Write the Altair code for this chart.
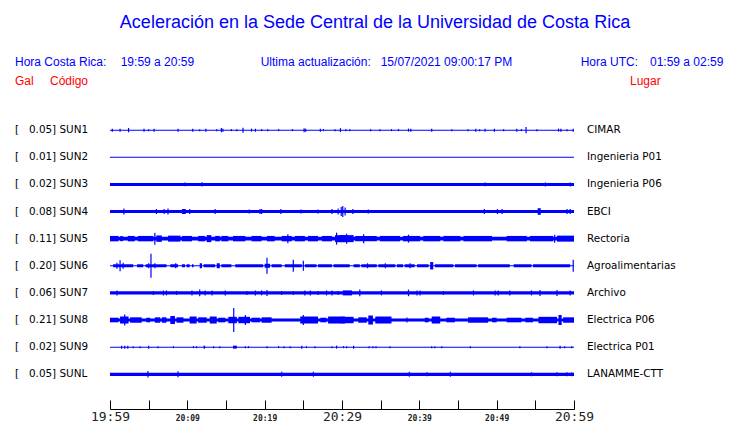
import altair as alt
import pandas as pd

# ---------------- data ----------------
title_text = "Aceleración en la Sede Central de la Universidad de Costa Rica"
hdr_local_lbl, hdr_local_val = "Hora Costa Rica:", "19:59 a 20:59"
hdr_upd_lbl, hdr_upd_val = "Ultima actualización:", "15/07/2021 09:00:17 PM"
hdr_utc_lbl, hdr_utc_val = "Hora UTC:", "01:59 a 02:59"
col_gal, col_code, col_place = "Gal", "Código", "Lugar"

stations = ["SUN1", "SUN2", "SUN3", "SUN4", "SUN5", "SUN6", "SUN7", "SUN8", "SUN9", "SUNL"]
full_scale = ["0.05", "0.01", "0.02", "0.08", "0.11", "0.20", "0.06", "0.21", "0.02", "0.05"]
places = ["CIMAR", "Ingenieria P01", "Ingenieria P06", "EBCI", "Rectoria",
          "Agroalimentarias", "Archivo", "Electrica P06", "Electrica P01", "LANAMME-CTT"]

# minutes after 19:59 and tick labels
tick_minutes = list(range(0, 61, 5))
tick_labels = ["19:59", "", "20:09", "", "20:19", "", "20:29", "", "20:39", "", "20:49", "", "20:59"]

# background half-amplitude of every trace (display counts)
base_amp = [0.5, 0.5, 1.5, 1.5, 1.8, 0.6, 1.6, 1.5, 0.5, 1.6]
COUNTS_PER_TRACE = 27.1

# spikes: (minute, half amplitude)
spikes_sun1 = [(0.3, 1.5), (1.3, 1.5), (2.4, 2.2), (4.4, 1.5), (5.0, 1.0), (5.7, 1.5), (8.8, 1.5),
               (10.7, 1.5), (11.6, 1.0), (12.4, 1.5), (13.8, 1.0), (14.4, 2.2), (14.6, 1.5), (15.7, 1.0),
               (16.4, 1.0), (17.2, 2.5), (18.3, 1.5), (18.8, 1.5), (19.6, 1.0), (20.4, 1.0), (21.8, 1.0),
               (23.6, 1.0), (25.1, 2.0), (25.3, 1.5), (27.2, 1.5), (27.6, 1.0), (29.1, 1.0), (29.8, 2.0),
               (30.5, 1.0), (31.0, 1.0), (33.7, 1.0), (34.9, 1.0), (36.4, 1.0), (37.3, 1.0), (38.6, 1.5),
               (38.9, 1.5), (41.6, 1.5), (44.2, 1.0), (46.3, 1.0), (47.3, 1.5), (47.8, 1.0), (48.5, 1.5),
               (49.7, 1.5), (50.9, 1.0), (52.6, 1.5), (53.2, 1.0), (53.8, 3.0), (55.2, 1.0), (58.0, 1.5),
               (58.3, 1.5), (59.1, 1.0), (59.9, 1.5)]
spikes_sun2 = []
spikes_sun3 = [(9.7, 1.8), (11.9, 2.2), (48.5, 1.8), (56.3, 2.0), (59.5, 2.0)]
spikes_sun4 = [(1.8, 3.0), (6.0, 2.5), (7.0, 2.5), (7.5, 3.0), (10.3, 2.5), (13.6, 2.5), (18.0, 2.0),
               (19.4, 2.5), (19.6, 2.5), (22.1, 2.5), (24.7, 2.0), (26.9, 2.0), (28.7, 2.5), (29.5, 3.0),
               (29.9, 4.5), (30.1, 5.5), (30.4, 4.0), (31.4, 2.5), (33.4, 2.0), (48.4, 2.5), (50.1, 2.5),
               (50.7, 2.5), (59.1, 2.5), (59.5, 2.5)]
spikes_sun5 = [(5.8, 6.0), (23.0, 4.5), (29.3, 6.0), (30.6, 5.0), (32.8, 4.5), (38.6, 4.0), (57.5, 4.0)]
spikes_sun6 = [(0.9, 3.0), (1.3, 5.5), (1.7, 3.0), (5.0, 2.5), (5.3, 12.0), (5.8, 2.5), (8.5, 2.5),
               (20.3, 8.0), (23.7, 6.0), (25.0, 5.0), (33.3, 2.5), (35.6, 2.5), (38.8, 2.5), (59.9, 6.0)]
spikes_sun7 = [(0.9, 2.5), (5.6, 2.0), (6.9, 2.5), (7.3, 2.5), (8.6, 2.0), (10.6, 2.5), (11.6, 3.3),
               (12.3, 2.5), (13.2, 2.5), (14.9, 2.5), (17.7, 2.0), (18.8, 2.5), (19.6, 2.5), (20.3, 3.0),
               (22.2, 2.0), (23.7, 2.0), (25.2, 2.5), (25.9, 2.5), (26.9, 2.0), (28.0, 2.5), (28.7, 2.5),
               (29.5, 2.0), (32.3, 3.3), (35.1, 2.5), (38.6, 3.3), (39.7, 2.5), (40.1, 2.5), (43.1, 2.0),
               (47.0, 2.5), (49.8, 2.5), (50.2, 2.5), (51.7, 2.5), (54.5, 2.5), (55.6, 3.0), (57.8, 3.0),
               (59.5, 2.5)]
spikes_sun8 = [(1.9, 5.5), (16.0, 12.0), (17.5, 5.0), (25.0, 5.0), (38.4, 2.5)]
spikes_sun9 = [(1.5, 1.5), (1.9, 1.5), (2.3, 1.5), (3.0, 1.0), (3.9, 1.0), (5.0, 1.5), (6.2, 1.0),
               (8.2, 1.0), (10.8, 1.0), (11.2, 1.0), (13.4, 1.0), (14.2, 1.0), (17.5, 1.0), (17.9, 1.0),
               (20.3, 1.0), (21.8, 1.0), (22.5, 1.0), (23.3, 1.0), (24.8, 1.5), (25.4, 1.0), (26.5, 1.0),
               (28.7, 1.0), (29.3, 1.5), (30.2, 1.0), (30.6, 1.0), (31.5, 1.5), (33.5, 1.0), (34.0, 1.0),
               (34.4, 1.0), (36.2, 1.0), (41.6, 1.0), (42.0, 1.0), (42.9, 1.0), (46.6, 1.0), (53.0, 1.0),
               (56.5, 1.0), (58.2, 1.5), (58.8, 1.0), (59.7, 1.0)]
spikes_sunl = [(4.9, 3.3), (8.8, 3.0), (22.2, 2.5), (26.3, 2.5), (38.7, 2.5), (41.0, 2.0), (44.0, 2.5),
               (54.5, 2.0), (57.8, 2.0), (59.1, 2.0), (59.7, 2.0)]

# bursts: (start minute, end minute, half amplitude)
bursts_sun4 = [(9.3, 9.8, 2.5), (55.3, 55.7, 3.3)]
bursts_sun5 = [(0.0, 1.1, 2.7), (1.3, 1.7, 2.5), (2.3, 3.2, 2.7), (3.6, 5.6, 2.7), (6.0, 6.7, 3.2),
               (7.5, 9.1, 3.0), (9.3, 10.6, 2.7), (11.4, 12.3, 2.7), (12.5, 13.1, 3.5), (13.6, 14.2, 2.7),
               (14.4, 15.3, 2.7), (15.9, 17.5, 2.7), (18.3, 19.6, 2.7), (20.3, 21.3, 2.7), (22.2, 23.5, 2.7),
               (23.9, 25.2, 2.7), (25.6, 26.9, 2.7), (27.4, 28.7, 2.7), (29.1, 30.4, 3.5), (29.7, 31.5, 3.5),
               (31.7, 34.5, 2.7), (34.9, 37.5, 2.7), (37.9, 40.1, 2.7), (40.5, 42.7, 2.7), (43.1, 45.3, 2.7),
               (45.7, 49.4, 2.7), (51.3, 53.9, 2.7), (54.3, 57.3, 2.7), (57.8, 60.0, 3.0)]
bursts_sun6 = [(0.4, 3.0, 1.5), (3.5, 4.3, 1.5), (4.6, 7.3, 1.5), (7.8, 8.8, 1.5), (9.3, 9.7, 1.5),
               (9.9, 10.3, 1.5), (10.6, 10.8, 1.5), (11.6, 11.9, 2.5), (12.1, 13.6, 1.5), (13.8, 14.2, 2.5),
               (14.4, 15.7, 1.5), (16.2, 19.8, 1.5), (20.0, 20.7, 2.0), (20.9, 22.2, 1.5), (22.6, 24.8, 1.5),
               (25.2, 26.7, 1.5), (26.9, 28.7, 1.5), (28.9, 31.0, 1.5), (31.5, 32.3, 1.5), (32.5, 34.5, 1.5),
               (34.7, 36.9, 1.5), (37.1, 37.9, 1.5), (38.1, 39.4, 1.5), (39.7, 41.2, 1.5), (41.4, 41.8, 3.7),
               (42.0, 44.4, 1.5), (44.6, 47.4, 1.5), (47.6, 51.7, 1.5), (52.2, 54.5, 1.5), (54.7, 59.5, 1.5)]
bursts_sun7 = [(30.1, 31.3, 2.5)]
bursts_sun8 = [(0.0, 1.1, 2.3), (1.3, 2.4, 3.5), (2.6, 4.1, 2.7), (4.7, 5.2, 2.3), (5.8, 6.5, 2.7),
               (6.7, 7.3, 2.7), (7.8, 8.4, 4.0), (8.6, 9.5, 2.7), (10.3, 11.2, 3.5), (11.4, 12.5, 2.7),
               (12.9, 13.8, 3.5), (14.0, 14.9, 2.3), (15.3, 16.4, 3.2), (16.6, 18.1, 3.2), (18.3, 19.4, 2.3),
               (19.6, 20.9, 2.7), (24.6, 26.9, 3.5), (27.2, 28.0, 2.3), (28.2, 30.4, 3.5), (29.7, 31.5, 3.2),
               (32.1, 33.2, 2.7), (33.4, 34.0, 4.5), (34.3, 36.4, 3.5), (40.7, 41.2, 2.3), (41.6, 42.7, 3.5),
               (43.5, 44.6, 2.3), (46.3, 48.9, 2.7), (49.4, 50.0, 2.3), (51.3, 53.2, 2.3), (53.7, 54.7, 2.3),
               (55.4, 57.8, 3.2), (58.0, 58.4, 5.0), (58.6, 60.0, 2.7)]
bursts_sun9 = [(12.1, 12.3, 1.5), (15.9, 16.4, 1.5)]

spikes_all = [spikes_sun1, spikes_sun2, spikes_sun3, spikes_sun4, spikes_sun5,
              spikes_sun6, spikes_sun7, spikes_sun8, spikes_sun9, spikes_sunl]
bursts_all = [[], [], [], bursts_sun4, bursts_sun5, bursts_sun6, bursts_sun7, bursts_sun8, bursts_sun9, []]

# ---------------- tables ----------------
NB = "\u00a0"
labels_df = pd.DataFrame({
    "row": list(range(len(stations))),
    "left": [f"[{NB*3}{fs}] {st}" for fs, st in zip(full_scale, stations)],
    "place": places,
})
bands_df = pd.DataFrame({
    "t0": [0.0] * len(stations), "t1": [60.0] * len(stations),
    "lo": [i - a / COUNTS_PER_TRACE for i, a in enumerate(base_amp)],
    "hi": [i + a / COUNTS_PER_TRACE for i, a in enumerate(base_amp)],
})
sp_rows = []
for i, lst in enumerate(spikes_all):
    for t, a in lst:
        sp_rows.append({"t": t, "lo": i - a / COUNTS_PER_TRACE, "hi": i + a / COUNTS_PER_TRACE})
spikes_df = pd.DataFrame(sp_rows)
bu_rows = []
for i, lst in enumerate(bursts_all):
    for t0, t1, a in lst:
        bu_rows.append({"t0": t0, "t1": t1, "lo": i - a / COUNTS_PER_TRACE, "hi": i + a / COUNTS_PER_TRACE})
bursts_df = pd.DataFrame(bu_rows)

BLUE = "#0000ff"
RED = "#ff0000"
W, H = 464, 306
xscale = alt.Scale(domain=[0, 60], nice=False, zero=False)
yscale = alt.Scale(domain=[-1, 10.28], reverse=True, nice=False, zero=False)

label_expr = "[" + ",".join(f"'{s}'" for s in tick_labels) + "][round(datum.value/5)]"
big_test = "datum.value % 30 == 0"
bottom_axis = alt.Axis(orient="bottom", values=tick_minutes, labelExpr=label_expr, domain=False,
                       ticks=False, tickSize=0, grid=False, title=None, labelFont="DejaVu Sans Mono",
                       labelFontSize={"condition": {"test": big_test, "value": 13}, "value": 8},
                       labelFontWeight={"condition": {"test": big_test, "value": 300}, "value": 700},
                       labelColor="#222222", labelPadding=11, labelBaseline="alphabetic",
                       labelOverlap=False, labelFlush=False)
tick_axis = alt.Axis(orient="top", offset=-H, values=tick_minutes, labels=False, domain=True,
                     domainColor="black", domainWidth=1, ticks=True, tickSize=9, tickColor="black",
                     tickWidth=1, grid=False, title=None)

bands = alt.Chart(bands_df).mark_rect(color=BLUE).encode(
    x=alt.X("t0:Q", scale=xscale, axis=tick_axis), x2="t1:Q",
    y=alt.Y("lo:Q", scale=yscale, axis=None), y2="hi:Q")
bursts = alt.Chart(bursts_df).mark_rect(color=BLUE).encode(
    x=alt.X("t0:Q", scale=xscale, axis=None), x2="t1:Q",
    y=alt.Y("lo:Q", scale=yscale, axis=None), y2="hi:Q")
spikes = alt.Chart(spikes_df).mark_rule(color=BLUE, strokeWidth=1.2).encode(
    x=alt.X("t:Q", scale=xscale, axis=bottom_axis),
    y=alt.Y("lo:Q", scale=yscale, axis=None), y2="hi:Q")

left_text = alt.Chart(labels_df).mark_text(align="left", baseline="middle", font="DejaVu Sans",
                                           fontSize=10.4, color="black").encode(
    x=alt.value(15 - 110), y=alt.Y("row:Q", scale=yscale, axis=None), text="left:N")
right_text = alt.Chart(labels_df).mark_text(align="left", baseline="middle", font="DejaVu Sans",
                                            fontSize=10.4, color="black").encode(
    x=alt.value(587 - 110), y=alt.Y("row:Q", scale=yscale, axis=None), text="place:N")


def note(txt, px, py, color, size=12, align="left"):
    return alt.Chart(pd.DataFrame({"s": [txt]})).mark_text(
        align=align, baseline="alphabetic", font="Liberation Sans", fontSize=size, color=color
    ).encode(x=alt.value(px - 110), y=alt.value(py - 103), text="s:N")


notes = [
    note(title_text, 375, 28, BLUE, size=18, align="center"),
    note(hdr_local_lbl, 15, 66, BLUE), note(hdr_local_val, 120.7, 66, BLUE),
    note(hdr_upd_lbl, 260.7, 66, BLUE), note(hdr_upd_val, 380.7, 66, BLUE),
    note(hdr_utc_lbl, 580.7, 66, BLUE), note(hdr_utc_val, 650, 66, BLUE),
    note(col_gal, 15, 85, RED), note(col_code, 50, 85, RED), note(col_place, 630, 85, RED),
]

chart = alt.layer(bands, bursts, spikes, left_text, right_text, *notes).resolve_axis(
    x="independent"
).properties(
    width=W, height=H,
    autosize=alt.AutoSizeParams(type="none"),
    padding={"left": 102, "top": 95, "right": 158, "bottom": 14},
    background="white",
).configure_view(stroke=None)

chart.save("out.html", embed_options={"renderer": "svg", "actions": False})
